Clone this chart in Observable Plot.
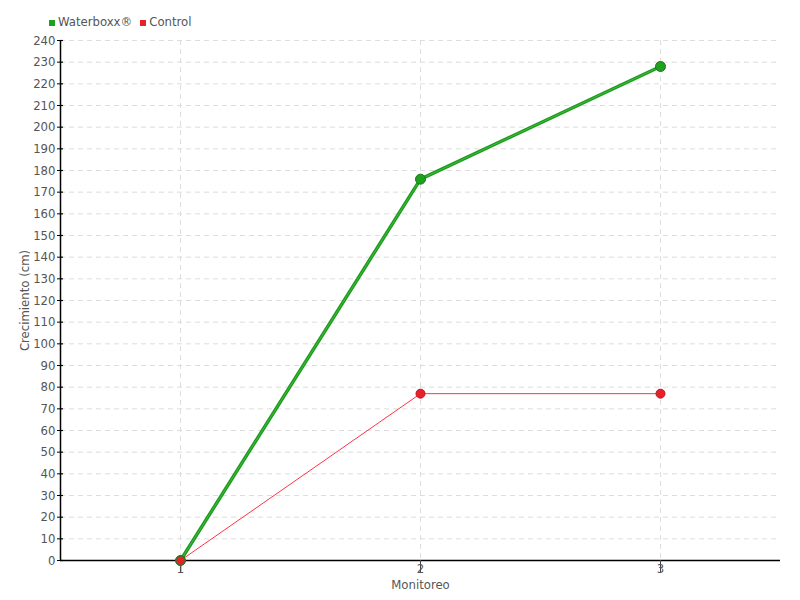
<!DOCTYPE html>
<html><head><meta charset="utf-8">
<script src="https://cdn.jsdelivr.net/npm/d3@7"></script>
<script src="https://cdn.jsdelivr.net/npm/@observablehq/plot@0.6"></script>
<style>
body{margin:0;background:#fff;}
#wrap{position:relative;width:800px;height:600px;font-family:"DejaVu Sans Condensed","Liberation Sans Narrow","DejaVu Sans",sans-serif;}
#legend{position:absolute;left:49px;top:14px;font-size:13px;color:#555;display:flex;gap:8px;align-items:center;}
#legend span.sw{display:inline-block;width:6px;height:6px;margin-right:3px;vertical-align:middle;}
</style></head><body>
<div id="wrap"><div id="legend">
<span><span class="sw" style="background:#1fa01f"></span>Waterboxx®</span>
<span><span class="sw" style="background:#e8202a"></span>Control</span>
</div></div>
<script>
const monitoreo = [1, 2, 3];
const waterboxx = [0, 176, 228];
const control = [0, 77, 77];
const yTicks = d3.range(0, 241, 10);

const wData = monitoreo.map((m, i) => ({m, v: waterboxx[i]}));
const cData = monitoreo.map((m, i) => ({m, v: control[i]}));

const chart = Plot.plot({
  width: 800, height: 600,
  marginLeft: 60, marginRight: 20, marginTop: 40, marginBottom: 40,
  style: {fontFamily: '"DejaVu Sans Condensed","Liberation Sans Narrow","DejaVu Sans",sans-serif', fontSize: "13px", color: "#555", background: "transparent"},
  x: {type: "linear", domain: [0.5, 3.5], label: null, axis: null},
  y: {type: "linear", domain: [0, 240], label: null, axis: null},
  marks: [
    Plot.gridY(yTicks, {stroke: "#ddd", strokeOpacity: 1, strokeDasharray: "5,4"}),
    Plot.gridX(monitoreo, {stroke: "#ddd", strokeOpacity: 1, strokeDasharray: "5,4"}),
    Plot.ruleY([0], {stroke: "#000", strokeWidth: 1.5}),
    Plot.ruleX([0.5], {stroke: "#000", strokeWidth: 1.5}),
    Plot.axisY(yTicks, {anchor: "left", tickSize: 3, tickPadding: 2, stroke: "#000", fontSize: 13, fill: "#555", label: null}),
    Plot.ruleY(yTicks, {x1: 0.5, x2: 0.5125, stroke: "#000", strokeWidth: 1.2}),
    Plot.axisX(monitoreo, {anchor: "bottom", tickSize: 13, tickPadding: -10, stroke: "#444", fontSize: 13, fill: "#555", label: null, tickFormat: d3.format("d")}),
    Plot.text(["Monitoreo"], {frameAnchor: "bottom", dy: 28, fontSize: 13, fill: "#555"}),
    Plot.text(["Crecimiento (cm)"], {frameAnchor: "left", textAnchor: "middle", dx: -36, rotate: -90, fontSize: 13, fill: "#555"}),
    Plot.line(cData, {x: "m", y: "v", stroke: "#ff3344", strokeWidth: 1}),
    Plot.line(wData, {x: "m", y: "v", stroke: "#1e9a1e", strokeWidth: 3.5}),
    Plot.line(wData, {x: "m", y: "v", stroke: "#3cbb3c", strokeWidth: 1}),
    Plot.dot(wData, {x: "m", y: "v", r: 5, fill: "#1fa01f", stroke: "#177a17", strokeWidth: 1}),
    Plot.dot(cData, {x: "m", y: "v", r: 4.5, fill: "#e8202a", stroke: d => d.m === 1 ? "#2a7a2a" : "#c01020", strokeWidth: 1})
  ]
});
document.getElementById("wrap").appendChild(chart);
chart.style.position = "absolute"; chart.style.left = "0"; chart.style.top = "0";
document.getElementById("legend").style.zIndex = 2;
</script>
</body></html>
